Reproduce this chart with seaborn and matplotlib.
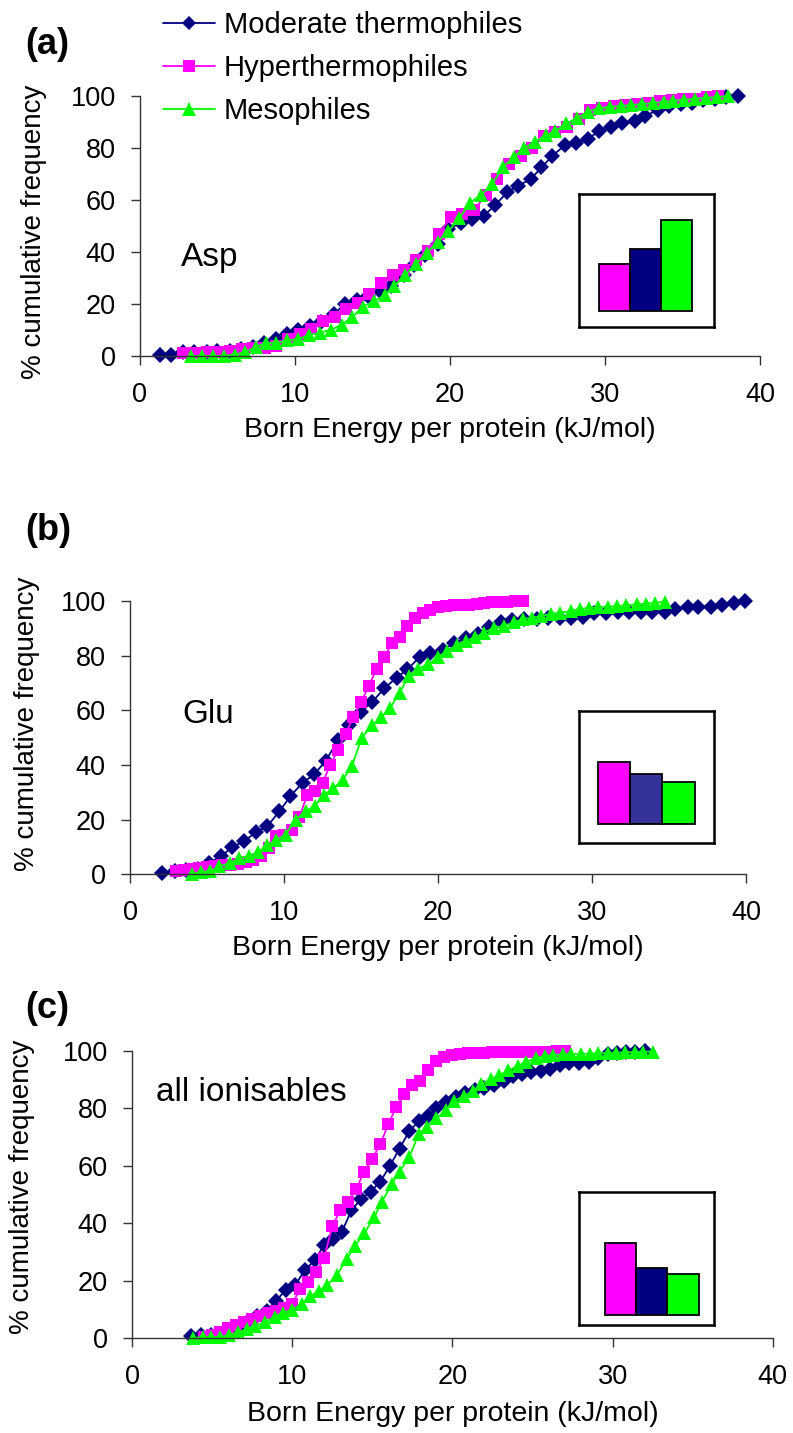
import matplotlib
matplotlib.use("Agg")
import matplotlib.pyplot as plt
import numpy as np
import pandas as pd
import seaborn as sns

sns.set_style("ticks")
plt.rcParams["font.family"] = ["Liberation Sans", "DejaVu Sans"]
plt.rcParams["text.color"] = "black"
plt.rcParams["axes.labelcolor"] = "black"
plt.rcParams["xtick.color"] = "black"
plt.rcParams["ytick.color"] = "black"

groups = ["Moderate thermophiles", "Hyperthermophiles", "Mesophiles"]
colors = {"Moderate thermophiles": "#000080", "Hyperthermophiles": "#FF00FF", "Mesophiles": "#00FF00"}
markers = {"Moderate thermophiles": "D", "Hyperthermophiles": "s", "Mesophiles": "^"}
msizes = {"Moderate thermophiles": 8, "Hyperthermophiles": 8.5, "Mesophiles": 10}

# (a) Asp
asp_mod_x = [1.3, 2.0, 2.8, 3.5, 4.3, 5.0, 5.8, 6.5, 7.3, 8.0, 8.8, 9.5, 10.2, 11.0, 11.7, 12.5, 13.2,
             14.0, 14.7, 15.5, 16.2, 17.0, 17.7, 18.4, 19.2, 19.9, 20.7, 21.4, 22.2, 22.9, 23.7, 24.4,
             25.2, 25.9, 26.6, 27.4, 28.1, 28.9, 29.6, 30.4, 31.1, 31.9, 32.6, 33.4, 34.1, 34.9, 35.6,
             36.3, 37.1, 37.8, 38.6]
asp_mod_y = [0.5, 0.5, 1.5, 1.5, 1.5, 2, 2, 2.5, 3.5, 5, 6.5, 8.5, 10, 11.5, 13, 16, 20, 21.5, 23, 25,
             27, 31, 35, 39, 43, 49, 51, 52.5, 54, 58, 63, 65.5, 68, 72.5, 77, 81, 82, 83.5, 86.5, 88,
             89.5, 90.5, 92.5, 94.5, 96, 97, 97.5, 98.5, 99, 99.5, 100]
asp_hyp_x = [2.8, 3.55, 4.3, 5.05, 5.8, 6.55, 7.3, 8.05, 8.8, 9.55, 10.3, 11.05, 11.8, 12.55, 13.3,
             14.05, 14.8, 15.55, 16.3, 17.05, 17.8, 18.55, 19.3, 20.05, 20.8, 21.55, 22.3, 23.05, 23.8,
             24.55, 25.3, 26.05, 26.8, 27.55, 28.3, 29.05, 29.8, 30.55, 31.3, 32.05, 32.8, 33.55, 34.3,
             35.05, 35.8, 36.55, 37.3]
asp_hyp_y = [1, 1, 1.5, 1.5, 2, 2.5, 3, 3, 4, 6.5, 8.5, 10.5, 13.5, 15, 18, 20.5, 24, 28, 31, 33, 37,
             40.5, 47, 53.5, 54.5, 56, 62, 68, 74, 77, 80, 84.5, 86, 88, 91, 94.5, 95.5, 96, 96.5, 97,
             97.5, 98, 98.5, 99, 99, 99.5, 100]
asp_mes_x = [3.3, 4.0, 4.7, 5.4, 6.1, 6.8, 7.5, 8.1, 8.8, 9.5, 10.2, 10.9, 11.6, 12.3, 13.0, 13.7, 14.4,
             15.1, 15.8, 16.4, 17.1, 17.8, 18.5, 19.2, 19.9, 20.6, 21.3, 22.0, 22.7, 23.4, 24.1, 24.8,
             25.5, 26.2, 26.8, 27.5, 28.2, 28.9, 29.6, 30.3, 31.0, 31.7, 32.4, 33.1, 33.8, 34.4, 35.1,
             35.8, 36.5, 37.2, 37.9]
asp_mes_y = [0, 0, 0, 0, 0.5, 1.5, 3.5, 5, 5, 6, 6.5, 8, 9, 10, 12, 15, 19, 21, 23.5, 27, 31, 35.5,
             39.5, 44, 48, 53, 59, 62, 66, 72.5, 76.5, 80, 82.5, 85, 86.5, 89.5, 91.5, 94, 95.3, 95.8,
             96.2, 96.5, 97, 97.3, 97.8, 98.2, 98.5, 99, 99.3, 99.6, 100]

# (b) Glu
glu_mod_x = [2.1, 2.9, 3.6, 4.4, 5.1, 5.9, 6.65, 7.4, 8.2, 8.9, 9.7, 10.4, 11.2, 11.95, 12.7, 13.5,
             14.2, 15.0, 15.7, 16.5, 17.3, 18.0, 18.8, 19.5, 20.3, 21.0, 21.8, 22.6, 23.3, 24.1, 24.8,
             25.6, 26.4, 27.1, 27.9, 28.6, 29.4, 30.1, 30.9, 31.7, 32.4, 33.2, 33.9, 34.7, 35.4, 36.2,
             36.9, 37.7, 38.4, 39.2, 39.9]
glu_mod_y = [0.5, 1, 1.5, 2, 4, 6.5, 10, 12, 15.5, 17.5, 23, 28.5, 33.5, 36.5, 41.5, 49, 54.5, 59.5,
             63, 68, 72, 75, 79.5, 81, 82, 84.5, 86.5, 88, 90.5, 92.5, 93, 93.5, 93.5, 94, 94, 94,
             94.3, 95.5, 95.8, 96, 96, 96, 96, 96, 97.3, 98, 98, 98, 98.5, 99.2, 100]
glu_hyp_x = [3.0, 3.5, 4.0, 4.5, 5.0, 5.5, 6.0, 6.5, 7.0, 7.5, 8.0, 8.5, 9.0, 9.5, 10.0, 10.5, 11.0,
             11.5, 12.0, 12.5, 13.0, 13.5, 14.0, 14.5, 15.0, 15.5, 16.0, 16.5, 17.0, 17.5, 18.0, 18.5,
             19.0, 19.5, 20.0, 20.5, 21.0, 21.5, 22.0, 22.5, 23.0, 23.5, 24.0, 24.5, 25.0, 25.5]
glu_hyp_y = [1.2, 1.5, 2, 2.4, 2.7, 3, 3.2, 3.3, 3.8, 4.5, 5.2, 6.5, 9.5, 14, 14.3, 16, 21, 29, 30.5,
             33.5, 40, 45.5, 51.5, 57.5, 63, 69, 75, 79.5, 84.5, 87, 91, 94, 95.5, 96.7, 98, 98.3, 98.5,
             98.5, 98.6, 98.8, 99.2, 99.6, 99.7, 99.8, 100, 100]
glu_mes_x = [4.0, 4.6, 5.2, 5.8, 6.5, 7.1, 7.7, 8.3, 8.9, 9.5, 10.1, 10.75, 11.4, 12.0, 12.6, 13.2, 13.8,
             14.4, 15.05, 15.7, 16.3, 16.9, 17.5, 18.1, 18.7, 19.35, 19.96, 20.6, 21.2, 21.8, 22.4, 23.0,
             23.6, 24.3, 24.9, 25.5, 26.1, 26.7, 27.3, 27.9, 28.6, 29.2, 29.8, 30.4, 31.0, 31.6, 32.2,
             32.9, 33.5, 34.1, 34.7]
glu_mes_y = [0, 0.8, 1, 2.8, 4.2, 5.8, 6.8, 8, 10.5, 12.5, 14.5, 20, 23, 25, 29, 31.5, 34.5, 39.5, 50,
             54.5, 57.5, 61, 66.5, 72.5, 75.3, 76.8, 79.5, 81.8, 84, 85.5, 86.7, 88.5, 90.2, 91, 92.2,
             93.4, 94, 94.6, 95.3, 95.8, 96.3, 97.2, 97.5, 97.8, 98, 98.2, 98.5, 98.8, 99.1, 99.4, 99.8]

# (c) all ionisables
ion_mod_x = [3.7, 4.3, 4.9, 5.5, 6.1, 6.65, 7.2, 7.8, 8.4, 9.0, 9.6, 10.2, 10.8, 11.4, 12.0, 12.55,
             13.1, 13.7, 14.3, 14.9, 15.5, 16.1, 16.7, 17.3, 17.9, 18.45, 19.0, 19.6, 20.2, 20.8, 21.4,
             22.0, 22.6, 23.2, 23.8, 24.35, 24.9, 25.5, 26.1, 26.7, 27.3, 27.9, 28.5, 29.1, 29.7, 30.25,
             30.85, 31.4, 32.0]
ion_mod_y = [0.7, 1, 1.2, 1.5, 2.5, 3.8, 5.5, 7.8, 9.5, 13, 16.8, 18.5, 23.8, 27, 32.5, 34.5, 37, 44.5,
             48.5, 51, 54.5, 60, 66, 72, 75.5, 77.3, 80, 82.3, 84.1, 85.3, 86.4, 87, 88.3, 89.5, 91.2,
             92, 92.5, 93, 93.8, 95.2, 95.7, 95.8, 96.2, 97.5, 98.8, 99.2, 99.5, 99.7, 100]
ion_hyp_x = [4.5, 5.0, 5.5, 6.0, 6.5, 7.0, 7.5, 8.0, 8.5, 9.0, 9.5, 10.0, 10.5, 11.0, 11.5, 12.0, 12.5,
             13.0, 13.5, 14.0, 14.5, 15.0, 15.5, 16.0, 16.5, 17.0, 17.5, 18.0, 18.5, 19.0, 19.5, 20.0,
             20.5, 21.0, 21.5, 22.0, 22.5, 23.0, 23.5, 24.0, 24.5, 25.0, 25.5, 26.0, 26.5, 27.0]
ion_hyp_y = [0.5, 1, 2, 3.5, 4.5, 5.5, 6.5, 7.5, 8.8, 9.5, 10.3, 12, 17, 19.5, 23, 28, 39, 44.5, 47.5,
             52, 58, 62.5, 67.5, 74.5, 80.5, 85, 88, 89.5, 93.5, 96.5, 97.8, 98.6, 99, 99.2, 99.3, 99.4,
             99.5, 99.5, 99.6, 99.6, 99.7, 99.7, 99.8, 99.8, 99.9, 100]
ion_mes_x = [3.8, 4.4, 4.9, 5.5, 6.05, 6.6, 7.2, 7.7, 8.3, 8.9, 9.4, 10.0, 10.6, 11.1, 11.7, 12.2, 12.8,
             13.4, 13.9, 14.5, 15.1, 15.6, 16.2, 16.7, 17.3, 17.9, 18.4, 19.0, 19.6, 20.1, 20.7, 21.3,
             21.8, 22.4, 22.9, 23.5, 24.1, 24.6, 25.2, 25.8, 26.3, 26.9, 27.4, 28.0, 28.6, 29.1, 29.7,
             30.2, 30.8, 31.4, 31.9, 32.5]
ion_mes_y = [0, 0.3, 0.3, 0.3, 1, 2, 3, 4.2, 5.6, 7.3, 8.8, 9.8, 12, 14.5, 16.5, 18.5, 22, 27.5, 32,
             36.5, 42, 47.5, 53.5, 58, 63, 71, 73.5, 76.5, 79.5, 82.5, 84.3, 86, 88.5, 90.2, 91.5, 93.3,
             94.8, 96.3, 97.5, 98.3, 98.6, 98.8, 99, 99, 99.1, 99.2, 99.3, 99.4, 99.5, 99.6, 99.7, 99.8]

# inset bars (relative heights), order: Hyper, Moderate, Meso
inset_groups = ["Hyperthermophiles", "Moderate thermophiles", "Mesophiles"]
asp_bars = [47, 62, 91]
glu_bars = [62, 50, 42]
ion_bars = [72, 47, 41]

fig = plt.figure(figsize=(7.93, 14.33), dpi=100)


def make_df(series):
    frames = []
    for g, (xs, ys) in zip(groups, series):
        frames.append(pd.DataFrame({"energy": xs, "freq": ys, "group": g}))
    return pd.concat(frames, ignore_index=True)


def draw_panel(rect, series, name, name_pos, ylab_pos, xlab_y):
    ax = fig.add_axes(rect)
    df = make_df(series)
    for g in groups:
        sub = df[df["group"] == g]
        sns.lineplot(data=sub, x="energy", y="freq", color=colors[g], marker=markers[g],
                     markersize=msizes[g], markeredgewidth=0, linewidth=1.3, sort=False,
                     estimator=None, label=g, legend=False, ax=ax)
    ax.set_xlim(0, 40)
    ax.set_ylim(0, 100)
    ax.set_xticks([0, 10, 20, 30, 40])
    ax.set_yticks([0, 20, 40, 60, 80, 100])
    sns.despine(ax=ax)
    for s in ["left", "bottom"]:
        ax.spines[s].set_color("#333333")
        ax.spines[s].set_linewidth(1.0)
    ax.tick_params(axis="both", direction="out", length=6.5, width=1.0, color="#333333",
                   labelsize=19.5, labelcolor="black")
    ax.tick_params(axis="x", pad=12)
    ax.tick_params(axis="y", pad=11)
    ax.set_xlabel("Born Energy per protein (kJ/mol)", fontsize=20.5)
    ax.set_ylabel("% cumulative frequency", fontsize=20)
    ax.xaxis.set_label_coords(0.5, xlab_y)
    ax.xaxis.label.set_va("center")
    ax.yaxis.set_label_coords(*ylab_pos)
    ax.yaxis.label.set_va("center")
    ax.text(name_pos[0], name_pos[1], name, transform=ax.transAxes, fontsize=24,
            ha="center", va="center")
    for line in ax.lines:
        line.set_clip_on(False)
    return ax


def draw_inset(rect, vals, xlim, ylim, navy):
    axi = fig.add_axes(rect)
    pal = {"Hyperthermophiles": "#FF00FF", "Moderate thermophiles": navy, "Mesophiles": "#00FF00"}
    sns.barplot(x=inset_groups, y=vals, hue=inset_groups, palette=pal, width=1.0, saturation=1,
                edgecolor="black", linewidth=1.3, legend=False, ax=axi)
    axi.set_xlim(*xlim)
    axi.set_ylim(*ylim)
    axi.set_xticks([])
    axi.set_yticks([])
    axi.set_xlabel("")
    axi.set_ylabel("")
    for s in axi.spines.values():
        s.set_visible(True)
        s.set_color("black")
        s.set_linewidth(1.8)


ax_a = draw_panel([0.1765, 0.7516, 0.782, 0.1814],
                  [(asp_mod_x, asp_mod_y), (asp_hyp_x, asp_hyp_y), (asp_mes_x, asp_mes_y)],
                  "Asp", (0.113, 0.380), (-0.171, 0.477), -0.285)
draw_inset([0.730, 0.7718, 0.170, 0.0928], asp_bars, (-1.145, 3.2), (-16, 117), "#000080")

ax_b = draw_panel([0.164, 0.390, 0.777, 0.1905],
                  [(glu_mod_x, glu_mod_y), (glu_hyp_x, glu_hyp_y), (glu_mes_x, glu_mes_y)],
                  "Glu", (0.127, 0.585), (-0.167, 0.549), -0.27)
draw_inset([0.730, 0.4117, 0.170, 0.0921], glu_bars, (-1.09, 3.09), (-19, 113), "#333399")

ax_c = draw_panel([0.1665, 0.0663, 0.808, 0.2003],
                  [(ion_mod_x, ion_mod_y), (ion_hyp_x, ion_hyp_y), (ion_mes_x, ion_mes_y)],
                  "all ionisables", (0.187, 0.857), (-0.172, 0.526), -0.265)
draw_inset([0.730, 0.0754, 0.170, 0.0928], ion_bars, (-1.33, 2.98), (-10, 123), "#000080")

# panel letters
fig.text(25 / 793, 1 - 45 / 1433, "(a)", fontsize=26, fontweight="bold", ha="left", va="center")
fig.text(25 / 793, 1 - 530 / 1433, "(b)", fontsize=26, fontweight="bold", ha="left", va="center")
fig.text(25 / 793, 1 - 1008 / 1433, "(c)", fontsize=26, fontweight="bold", ha="left", va="center")

handles, labels = ax_a.get_legend_handles_labels()
fig.legend(handles, labels, loc="upper left", bbox_to_anchor=(157 / 793, 1 - 5 / 1433),
           frameon=False, fontsize=21, handlelength=1.8, handletextpad=0.3,
           labelspacing=0.52, borderpad=0.2, borderaxespad=0, markerscale=0.95)

fig.savefig("out.png", dpi=100)
